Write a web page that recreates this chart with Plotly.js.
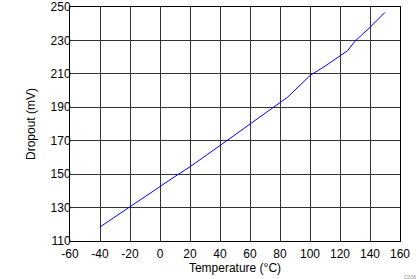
<!DOCTYPE html>
<html>
<head>
<script src="https://cdn.plot.ly/plotly-3.0.1.min.js"></script>
<style>html,body{margin:0;padding:0;background:#fff;}#chart{width:419px;height:279px;}</style>
</head>
<body>
<div id="chart"></div>
<script>
var temperature = [-40, -30, -20, -10, 0, 10, 20, 30, 40, 50, 60, 70, 80, 85, 90, 100, 110, 120, 125, 130, 140, 150];
var dropout = [118.4, 124.5, 130.5, 136.7, 142.8, 148.6, 154.4, 160.6, 167, 173.5, 180, 186.4, 192.5, 196, 200.3, 209, 214.6, 221, 223.8, 229.6, 237.8, 246.8];
var xTicks = [-60, -40, -20, 0, 20, 40, 60, 80, 100, 120, 140, 160];
var yTicks = [110, 130, 150, 170, 190, 210, 230, 250];

var trace = {
  x: temperature,
  y: dropout,
  type: 'scatter',
  mode: 'lines',
  line: {color: '#0000ff', width: 1},
  hoverinfo: 'none'
};
var layout = {
  width: 419, height: 279,
  margin: {l: 70, r: 19, t: 7, b: 38},
  paper_bgcolor: '#fff', plot_bgcolor: '#fff',
  showlegend: false,
  font: {family: 'Liberation Sans, Arial, sans-serif', size: 12, color: '#000'},
  xaxis: {
    range: [-60, 160], tickvals: xTicks, ticktext: xTicks.map(String),
    showgrid: true, gridcolor: '#333', gridwidth: 1,
    zeroline: false, showline: true, linecolor: '#000', linewidth: 1, mirror: true,
    ticks: '', ticklen: 0, ticklabelstandoff: 2,
    tickfont: {size: 12},
    title: {text: 'Temperature (°C)', font: {size: 12}, standoff: 3}
  },
  yaxis: {
    range: [110, 250], tickvals: yTicks, ticktext: yTicks.map(String),
    showgrid: true, gridcolor: '#333', gridwidth: 1,
    zeroline: false, showline: true, linecolor: '#000', linewidth: 1, mirror: true,
    ticks: '', ticklen: 0, ticklabelstandoff: -4,
    tickfont: {size: 12},
    title: {text: 'Dropout (mV)', font: {size: 12}, standoff: 12}
  },
  annotations: [{
    text: 'C006', xref: 'paper', yref: 'paper', x: 1.055, y: -0.155,
    xanchor: 'right', yanchor: 'middle', showarrow: false,
    font: {size: 5, color: '#888'}
  }]
};
Plotly.newPlot('chart', [trace], layout, {staticPlot: true, displayModeBar: false});
</script>
</body>
</html>
